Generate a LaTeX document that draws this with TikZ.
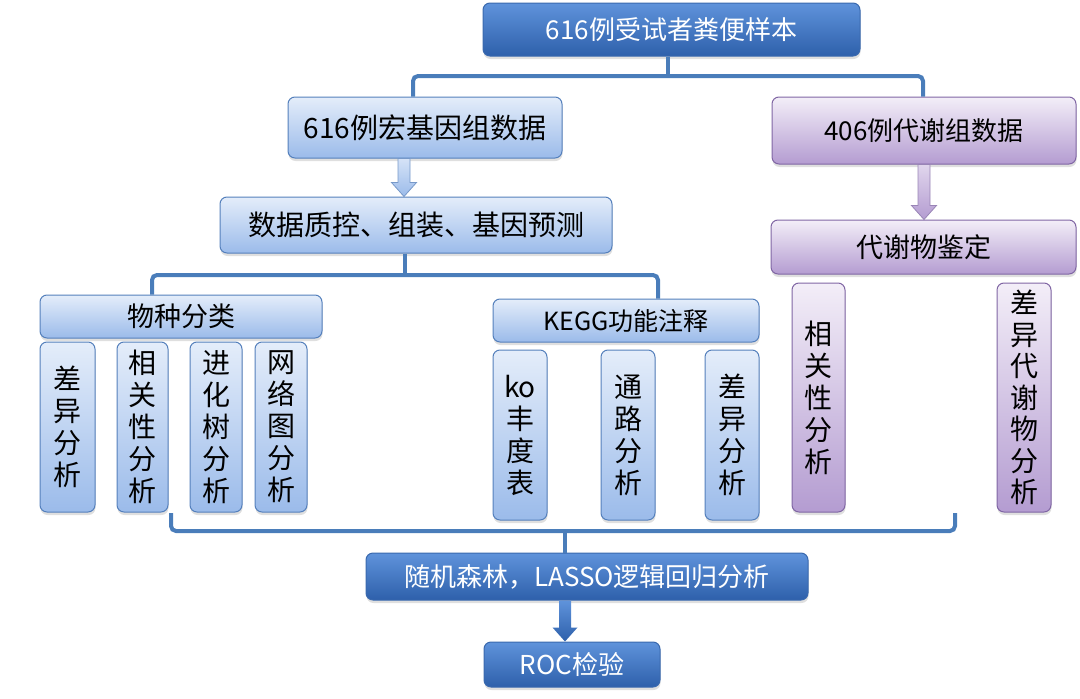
\documentclass[tikz,border=0pt]{standalone}
\usepackage{fontspec}
\newfontfamily\cjk{Noto Sans CJK SC}
\usetikzlibrary{calc,shadows}
\definecolor{darktop}{HTML}{5F93DB}
\definecolor{darkbot}{HTML}{2E60AB}
\definecolor{darkline}{HTML}{3A69AE}
\definecolor{bluetop}{HTML}{E4EDFA}
\definecolor{bluebot}{HTML}{9BBBEA}
\definecolor{blueline}{HTML}{5580BC}
\definecolor{purpletop}{HTML}{F3EEF8}
\definecolor{purplebot}{HTML}{B49CD1}
\definecolor{purpleline}{HTML}{8066A4}
\definecolor{connblue}{HTML}{4A7DBA}
\tikzset{
  box/.style={rounded corners=7pt, line width=1pt, align=center, inner sep=2pt,
    font=\cjk\fontsize{26}{32}\selectfont,
    drop shadow={shadow xshift=0.5pt, shadow yshift=-3pt, opacity=0.25}},
  darkbox/.style={box, draw=darkline, top color=darktop, bottom color=darkbot, text=white},
  bluebox/.style={box, draw=blueline, top color=bluetop, bottom color=bluebot},
  purplebox/.style={box, draw=purpleline, top color=purpletop, bottom color=purplebot},
  vtext/.style={font=\cjk\fontsize{28}{32}\selectfont},
  big/.style={font=\cjk\fontsize{28}{32}\selectfont},
  conn/.style={draw=connblue, line width=4pt, rounded corners=5pt},
  bluearrow/.style={draw=blueline!80, line width=0.8pt, top color=bluetop!80!bluebot, bottom color=bluebot},
  purplearrow/.style={draw=purpleline!80, line width=0.8pt, top color=purpletop!70!purplebot, bottom color=purplebot},
  darkarrow/.style={top color=darktop, bottom color=darkbot}
}
% block arrow straight down from #2 to #3
\newcommand{\blockarrow}[3]{%
  \path[#1] let \p1=(#2), \p2=(#3) in
    (\x1-6pt,\y1) -- (\x1-6pt,\y2+14pt) -- (\x1-12.5pt,\y2+14pt) -- (\x1,\y2)
    -- (\x1+12.5pt,\y2+14pt) -- (\x1+6pt,\y2+14pt) -- (\x1+6pt,\y1) -- cycle;}
\begin{document}
\begin{tikzpicture}[x=1pt,y=-1pt]
\useasboundingbox (0,0) rectangle (1080,699);

% top level
\node[darkbox, minimum width=377pt, minimum height=53pt] (sample) at (671.5,29.5) {616例受试者粪便样本};
\node[bluebox, big, minimum width=274pt, minimum height=61pt] (meta) at (425,127.5) {616例宏基因组数据};
\node[purplebox, minimum width=304pt, minimum height=67pt] (metab) at (924,130.5) {406例代谢组数据};
\node[bluebox, big, minimum width=392pt, minimum height=56pt] (qc) at (416,225) {数据质控、组装、基因预测};
\node[purplebox, minimum width=305pt, minimum height=54pt, font=\cjk\fontsize{27}{32}\selectfont] (ident) at (923.5,247) {代谢物鉴定};

% second level
\node[bluebox, minimum width=282pt, minimum height=43pt, font=\cjk\fontsize{27}{32}\selectfont] (taxa) at (181,316.5) {物种分类};
\node[bluebox, minimum width=266pt, minimum height=43pt, font=\cjk\fontsize{25}{30}\selectfont] (kegg) at (626,320.5) {KEGG功能注释};

% analyses
\node[bluebox, vtext, minimum width=55pt, minimum height=170pt] (tdiff) at (67.5,427) {差\\异\\分\\析};
\node[bluebox, vtext, minimum width=51pt, minimum height=170pt] (tcorr) at (142.5,427) {相\\关\\性\\分\\析};
\node[bluebox, vtext, minimum width=52pt, minimum height=170pt] (ttree) at (216,427) {进\\化\\树\\分\\析};
\node[bluebox, vtext, minimum width=52pt, minimum height=170pt] (tnet) at (281,427) {网\\络\\图\\分\\析};
\node[bluebox, vtext, minimum width=54pt, minimum height=170pt] (kabund) at (520,435) {ko\\丰\\度\\表};
\node[bluebox, vtext, minimum width=54pt, minimum height=170pt] (kpath) at (628,435) {通\\路\\分\\析};
\node[bluebox, vtext, minimum width=54pt, minimum height=170pt] (kdiff) at (732,435) {差\\异\\分\\析};
\node[purplebox, vtext, minimum width=53pt, minimum height=229pt] (mcorr) at (818.5,397.5) {相\\关\\性\\分\\析};
\node[purplebox, vtext, minimum width=54pt, minimum height=229pt, font=\cjk\fontsize{28}{31.5}\selectfont] (mdiff) at (1024,397.5) {差\\异\\代\\谢\\物\\分\\析};

% models
\node[darkbox, minimum width=442pt, minimum height=47pt] (rf) at (587,576.5) {随机森林，LASSO逻辑回归分析};
\node[darkbox, minimum width=176pt, minimum height=45pt] (roc) at (572,664.5) {ROC检验};

% connectors
\coordinate (sJ) at (668,76);
\coordinate (sL) at (413,76);
\coordinate (sR) at (923,76);
\draw[conn] (sample.south -| sJ) -- (sJ);
\draw[conn] (meta.north -| sL) |- (sR) -- (metab.north -| sR);

\coordinate (qJ) at (405,275);
\coordinate (qL) at (152,275);
\coordinate (qR) at (658,275);
\draw[conn] (qc.south -| qJ) -- (qJ);
\draw[conn] (taxa.north -| qL) |- (qR) -- (kegg.north -| qR);

\coordinate (bLt) at (171,513);
\coordinate (bRt) at (955,513);
\coordinate (bR) at (955,531);
\coordinate (bJ) at (565,531);
\draw[conn] (bLt) |- (bR) -- (bRt);
\draw[conn] (bJ) -- (rf.north -| bJ);

% arrows
\coordinate (aL) at (404,0);
\blockarrow{bluearrow}{meta.south -| aL}{qc.north -| aL}
\blockarrow{purplearrow}{metab.south}{ident.north}
\blockarrow{darkarrow}{rf.south -| bJ}{roc.north -| bJ}
\end{tikzpicture}
\end{document}
